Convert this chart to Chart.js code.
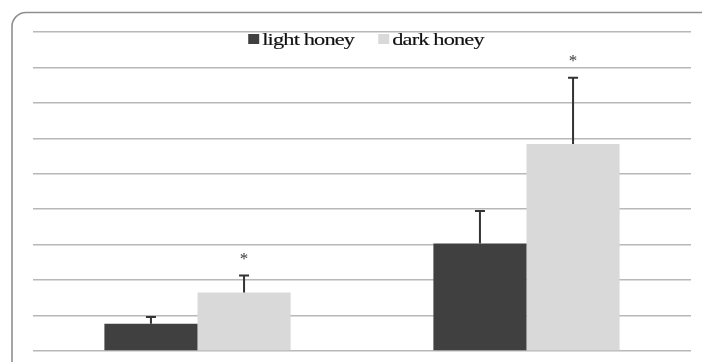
<!DOCTYPE html>
<html>
<head>
<meta charset="utf-8">
<script src="https://cdn.jsdelivr.net/npm/chart.js@4"></script>
<style>
  html, body { margin: 0; padding: 0; background: #fff; }
  #wrap { width: 702px; height: 362px; position: relative; }
</style>
</head>
<body>
<div id="wrap"><canvas id="c" width="702" height="362"></canvas></div>
<script>
// Honey samples, mean values with upward standard-deviation bars
const categories = ['1', '2'];
const seriesNames = ['light honey', 'dark honey'];
const lightHoney = [0.77, 3.03];
const darkHoney = [1.65, 5.84];
const lightHoneyErr = [0.19, 0.92];
const darkHoneyErr = [0.48, 1.87];
const darkHoneyMarks = ['*', '*'];
const yMax = 9;

const COLORS = ['#404040', '#d9d9d9'];

// rounded frame around the whole chart
const framePlugin = {
  id: 'frame',
  beforeDraw(chart) {
    const ctx = chart.ctx;
    ctx.save();
    ctx.fillStyle = '#ffffff';
    ctx.fillRect(0, 0, chart.width, chart.height);
    ctx.strokeStyle = '#8f8f8f';
    ctx.lineWidth = 1.6;
    ctx.beginPath();
    ctx.roundRect(12, 12.5, chart.width + 10, chart.height + 10, 14);
    ctx.stroke();
    ctx.restore();
  }
};

// error bars (upper side only) and significance marks
const errorPlugin = {
  id: 'errors',
  afterDatasetsDraw(chart) {
    const ctx = chart.ctx;
    const y = chart.scales.y;
    const errs = [lightHoneyErr, darkHoneyErr];
    const marks = [null, darkHoneyMarks];
    ctx.save();
    chart.data.datasets.forEach((ds, di) => {
      const meta = chart.getDatasetMeta(di);
      meta.data.forEach((bar, i) => {
        const x = bar.x;
        const yTop = y.getPixelForValue(ds.data[i]);
        const yErr = y.getPixelForValue(ds.data[i] + errs[di][i]);
        ctx.strokeStyle = '#333333';
        ctx.lineWidth = 2;
        ctx.beginPath();
        ctx.moveTo(x, yTop);
        ctx.lineTo(x, yErr);
        ctx.moveTo(x - 5, yErr);
        ctx.lineTo(x + 5, yErr);
        ctx.stroke();
        if (marks[di] && marks[di][i]) {
          ctx.fillStyle = '#3a3a3a';
          ctx.font = '17px "Liberation Serif", serif';
          ctx.textAlign = 'center';
          ctx.textBaseline = 'middle';
          ctx.fillText(marks[di][i], x, yErr - 16);
        }
      });
    });
    ctx.restore();
  }
};

// legend drawn inside the plot, centred near the top, in a wide serif face
const legendPlugin = {
  id: 'insideLegend',
  afterDraw(chart) {
    const ctx = chart.ctx;
    const textWidth = 92;   // rendered width of each label
    ctx.save();
    ctx.font = '16px "Liberation Serif", serif';
    ctx.letterSpacing = '-0.6px';
    ctx.textBaseline = 'alphabetic';
    ctx.textAlign = 'left';
    const box = 11, gap = 3, between = 24;
    const stretch = ctx.measureText(seriesNames[0]).width;
    const widths = chart.data.datasets.map(d => ctx.measureText(d.label).width * textWidth / stretch);
    const total = widths.reduce((a, w) => a + box + gap + w, 0) + between * (widths.length - 1);
    const area = chart.chartArea;
    let x = (area.left + area.right) / 2 - total / 2 + 4;
    const base = 44.5;
    chart.data.datasets.forEach((d, i) => {
      ctx.fillStyle = d.backgroundColor;
      ctx.fillRect(x, 34, box, 10);
      x += box + gap;
      ctx.save();
      ctx.translate(x, base);
      ctx.scale(textWidth / stretch, 1);
      ctx.fillStyle = '#111111';
      ctx.strokeStyle = '#111111';
      ctx.lineWidth = 0.15;
      ctx.fillText(d.label, 0, 0);
      ctx.strokeText(d.label, 0, 0);
      ctx.restore();
      x += widths[i] + between;
    });
    ctx.restore();
  }
};

new Chart(document.getElementById('c'), {
  type: 'bar',
  data: {
    labels: categories,
    datasets: [
      { label: seriesNames[0], data: lightHoney, backgroundColor: COLORS[0] },
      { label: seriesNames[1], data: darkHoney, backgroundColor: COLORS[1] }
    ]
  },
  options: {
    responsive: false,
    animation: false,
    devicePixelRatio: 1,
    layout: { padding: { left: 33, right: 11, top: 32, bottom: 11 } },
    plugins: { legend: { display: false }, tooltip: { enabled: false } },
    datasets: { bar: { categoryPercentage: 0.566, barPercentage: 1.0, borderWidth: 0 } },
    scales: {
      x: { display: false },
      y: {
        min: 0, max: yMax,
        ticks: { display: false, stepSize: 1 },
        border: { display: false },
        grid: { color: '#b8b8b8', lineWidth: 1.5, drawTicks: false }
      }
    }
  },
  plugins: [framePlugin, errorPlugin, legendPlugin]
});
</script>
</body>
</html>
